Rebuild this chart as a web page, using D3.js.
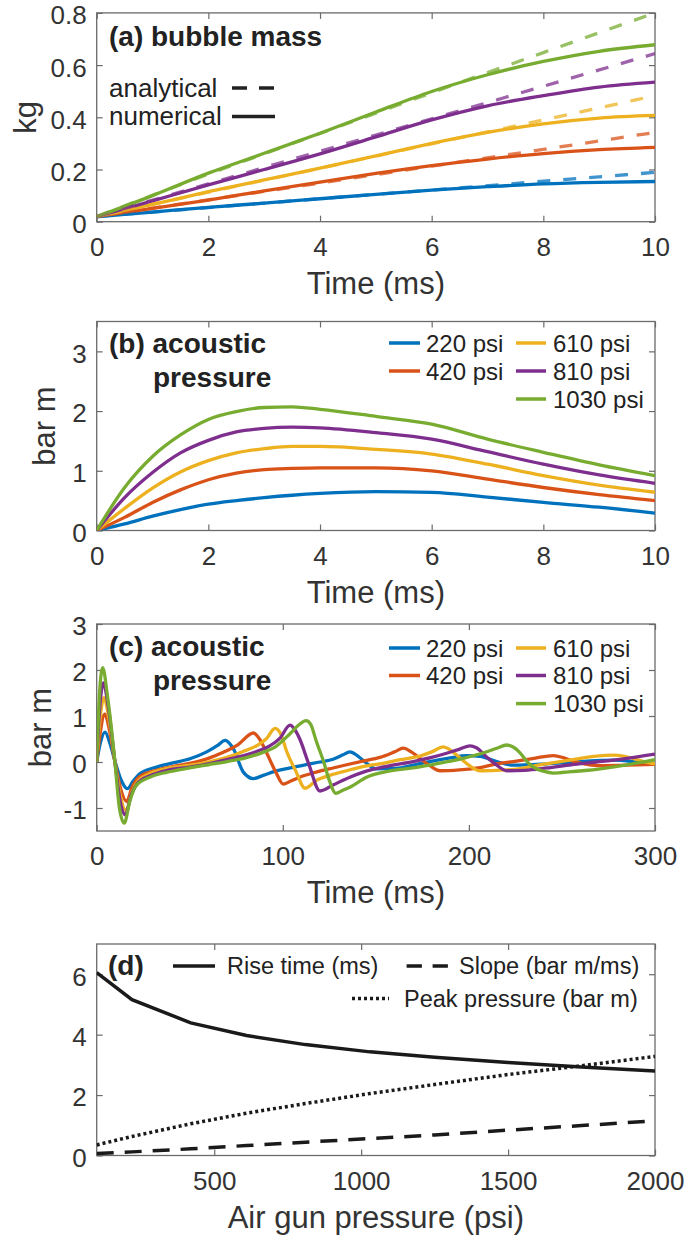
<!DOCTYPE html>
<html><head><meta charset="utf-8">
<script src="https://cdn.jsdelivr.net/npm/d3@7"></script>
<style>
body{margin:0;background:#fff}
text{font-family:"Liberation Sans",Arial,Helvetica,sans-serif}
</style>
</head><body>
<svg id="chart" width="685" height="1237"></svg>
<script>
// ---------------- DATA ----------------
const seriesNames = ["220 psi","420 psi","610 psi","810 psi","1030 psi"];
const seriesColors = ["#0072BD","#D95319","#EDB120","#7E2F8E","#77AC30"];

// (a) bubble mass, kg
const massTime = [0,1,2,3,4,5,6,7,8,9,10];
const massNum220  = [0.019,0.037,0.055,0.071,0.088,0.105,0.121,0.134,0.145,0.151,0.154];
const massNum420  = [0.019,0.051,0.083,0.118,0.152,0.185,0.215,0.240,0.261,0.276,0.285];
const massNum610  = [0.019,0.066,0.115,0.160,0.205,0.252,0.300,0.342,0.375,0.397,0.407];
const massNum810  = [0.019,0.080,0.141,0.200,0.260,0.325,0.390,0.444,0.483,0.516,0.535];
const massNum1030 = [0.019,0.100,0.186,0.262,0.339,0.420,0.499,0.563,0.614,0.653,0.678];
const anaTime = [0,2,4,6,8,10];
const massAna220  = [0.02,0.054,0.088,0.121,0.155,0.189];
const massAna420  = [0.02,0.084,0.148,0.213,0.277,0.342];
const massAna610  = [0.02,0.113,0.205,0.298,0.390,0.483];
const massAna810  = [0.02,0.145,0.270,0.394,0.519,0.644];
const massAna1030 = [0.02,0.182,0.338,0.494,0.648,0.800];

// (b) acoustic pressure, first 10 ms, bar m
const presTimeB = [0,0.5,1,1.5,2,2.5,3,3.5,4,5,6,7,8,9,10];
const presB220  = [0,0.11,0.24,0.35,0.44,0.50,0.55,0.59,0.62,0.65,0.64,0.56,0.47,0.39,0.29];
const presB420  = [0,0.22,0.47,0.68,0.85,0.96,1.02,1.04,1.05,1.05,1.00,0.86,0.72,0.60,0.50];
const presB610  = [0,0.37,0.71,0.98,1.17,1.30,1.37,1.41,1.41,1.36,1.28,1.11,0.92,0.76,0.64];
const presB810  = [0,0.55,0.97,1.30,1.51,1.65,1.71,1.73,1.72,1.64,1.53,1.32,1.11,0.93,0.79];
const presB1030 = [0,0.72,1.24,1.60,1.86,1.99,2.06,2.07,2.03,1.91,1.78,1.53,1.31,1.10,0.92];

// (c) acoustic pressure, 300 ms, [time ms, bar m]
const presC220 = [[0,0],[2,0.42],[4.5,0.65],[7,0.42],[9.8,0.02],[13,-0.38],[16.5,-0.58],[19.5,-0.42],[23.3,-0.25],[32.2,-0.11],[41,-0.02],[50.1,0.07],[59.1,0.22],[65,0.36],[69,0.47],[73.4,0.29],[78.8,-0.22],[84.2,-0.36],[89.5,-0.29],[96,-0.2],[103.9,-0.13],[112,-0.06],[120,0.0],[127,0.06],[132,0.15],[136.1,0.22],[140,0.14],[143.3,0.03],[150.4,-0.15],[161,-0.14],[170,-0.07],[179,0.01],[190,0.09],[198.8,0.14],[206,0.12],[214.9,0.01],[223.9,-0.07],[241.8,-0.04],[260,0.01],[277.6,0.04],[290,0.0],[300,-0.05]];
const presC420 = [[0,0],[1.8,0.6],[4.3,1.04],[6.8,0.7],[9.8,0.0],[13,-0.6],[16.1,-0.86],[19,-0.55],[23,-0.32],[32.2,-0.18],[41,-0.1],[50,-0.03],[60,0.08],[68,0.21],[76,0.38],[84.2,0.63],[87.5,0.5],[91.3,0.2],[96,-0.2],[100.3,-0.48],[104,-0.42],[109,-0.33],[118,-0.22],[127,-0.13],[134.3,-0.06],[143,0.02],[152.2,0.1],[160,0.22],[164.8,0.3],[169,0.22],[173.7,0.08],[179,-0.08],[184.5,-0.19],[195,-0.17],[206,-0.12],[215,-0.04],[223.9,0.01],[235,0.08],[245.4,0.14],[251,0.09],[256,0.02],[262,-0.04],[268.6,-0.08],[285,-0.07],[300,-0.05]];
const presC610 = [[0,0],[1.6,0.85],[3.9,1.4],[6.5,0.95],[9.8,0.0],[12.8,-0.75],[15.8,-1.06],[18.7,-0.68],[22.5,-0.4],[28.6,-0.25],[38,-0.14],[50,-0.07],[60,0.0],[70,0.1],[80,0.25],[87,0.38],[91.3,0.51],[95.8,0.73],[99,0.6],[102,0.24],[107,-0.2],[112,-0.57],[118,-0.4],[126,-0.28],[134.3,-0.19],[143,-0.1],[152,-0.04],[163,0.05],[173.7,0.13],[180,0.22],[186.3,0.33],[190,0.26],[195.2,0.09],[200,-0.07],[206,-0.19],[215,-0.18],[224,-0.16],[237,-0.07],[250.7,0.02],[260,0.08],[268.6,0.13],[277.6,0.15],[283,0.13],[288,0.08],[294,0.01],[300,-0.04]];
const presC810 = [[0,0],[1.4,1.05],[3.6,1.72],[6.2,1.2],[9.8,0.0],[12.6,-0.85],[15.4,-1.15],[18.5,-0.72],[22,-0.46],[28.6,-0.3],[38,-0.18],[50,-0.11],[60,-0.04],[70,0.05],[80,0.15],[88,0.26],[93,0.35],[98.5,0.52],[103.9,0.8],[106.5,0.7],[109,0.51],[114,-0.05],[120,-0.63],[127,-0.5],[136,-0.33],[143.3,-0.22],[155,-0.1],[170,0.01],[180,0.1],[188,0.19],[195,0.28],[200.6,0.35],[204,0.31],[209.5,0.11],[215,-0.07],[220.3,-0.19],[230,-0.18],[241.8,-0.13],[255,-0.06],[268.6,0.0],[285,0.08],[300,0.17]];
const presC1030 = [[0,0],[1.2,1.25],[3.2,2.05],[5.9,1.4],[9.8,0.0],[12.2,-1.0],[14.8,-1.33],[17.8,-0.85],[21,-0.52],[28.6,-0.33],[38,-0.22],[50,-0.13],[60,-0.06],[70,0.01],[80,0.09],[90,0.22],[96,0.33],[104,0.62],[109,0.82],[112.5,0.9],[115,0.82],[118,0.45],[122,0.0],[125,-0.4],[128.5,-0.68],[132,-0.62],[136,-0.55],[145,-0.33],[157,-0.2],[170,-0.13],[185,-0.02],[197,0.08],[208,0.2],[215,0.3],[220.3,0.37],[224,0.32],[227.5,0.2],[231,0.02],[234.6,-0.11],[240,-0.2],[245.4,-0.24],[255,-0.21],[268.6,-0.16],[285,-0.06],[300,0.05]];

// (d) summary vs air gun pressure
const gunPressure = [100,220,420,610,810,1030,1250,1500,1750,2000];
const riseTime    = [6.05,5.16,4.39,3.97,3.67,3.43,3.25,3.08,2.93,2.80];
const slope       = [0.07,0.12,0.22,0.33,0.44,0.56,0.68,0.84,0.99,1.15];
const peakPres    = [0.35,0.63,1.05,1.40,1.72,2.05,2.35,2.68,2.97,3.28];

// tick values
const ticksA_x = [0,2,4,6,8,10], ticksA_y = [0,0.2,0.4,0.6,0.8];
const ticksB_x = [0,2,4,6,8,10], ticksB_y = [0,1,2,3];
const ticksC_x = [0,100,200,300], ticksC_y = [-1,0,1,2,3];
const ticksD_x = [500,1000,1500,2000], ticksD_y = [0,2,4,6];

// ---------------- DRAW ----------------
const svg = d3.select("#chart");
const L = 96.7, R = 655;
const TXT = "#333";
const BOX = "#6b6b6b";
const LW = 3.3;

function panel(o){
  const x = d3.scaleLinear().domain(o.xd).range([L,R]);
  const y = d3.scaleLinear().domain(o.yd).range([o.bottom,o.top]);
  const g = svg.append("g");
  const id = "clip"+o.name;
  svg.append("clipPath").attr("id",id).append("rect")
    .attr("x",L).attr("y",o.top).attr("width",R-L).attr("height",o.bottom-o.top);
  const styleAxis = (sel, labels)=>{
    sel.select(".domain").remove();
    sel.selectAll(".tick line").attr("stroke",BOX).attr("stroke-width",1.2);
    sel.selectAll("text").attr("fill",TXT).style("font-size","26px");
    if(!labels) sel.selectAll("text").remove();
  };
  g.append("g").attr("transform",`translate(0,${o.bottom})`)
    .call(d3.axisBottom(x).tickValues(o.xt).tickSizeInner(-6).tickSizeOuter(0).tickPadding(16).tickFormat(d3.format("")))
    .call(s=>styleAxis(s,true));
  g.append("g").attr("transform",`translate(0,${o.top})`)
    .call(d3.axisTop(x).tickValues(o.xt).tickSizeInner(-6).tickSizeOuter(0))
    .call(s=>styleAxis(s,false));
  g.append("g").attr("transform",`translate(${L},0)`)
    .call(d3.axisLeft(y).tickValues(o.yt).tickSizeInner(-6).tickSizeOuter(0).tickPadding(10).tickFormat(d3.format("")))
    .call(s=>styleAxis(s,true))
    .call(s=>s.selectAll("text").attr("dy","0.42em"));
  g.append("g").attr("transform",`translate(${R},0)`)
    .call(d3.axisRight(y).tickValues(o.yt).tickSizeInner(-6).tickSizeOuter(0))
    .call(s=>styleAxis(s,false));
  g.selectAll(".tick text").each(function(){ const t=d3.select(this); t.text(t.text().replace("−","-")); });
  g.append("rect").attr("x",L).attr("y",o.top).attr("width",R-L).attr("height",o.bottom-o.top)
    .attr("fill","none").attr("stroke",BOX).attr("stroke-width",1.3);
  g.append("text").attr("x",(L+R)/2).attr("y",o.bottom+72).attr("text-anchor","middle")
    .attr("fill",TXT).style("font-size","31px").text(o.xlabel);
  if(o.ylabel){
    g.append("text").attr("transform",`translate(${o.ylx},${(o.top+o.bottom)/2}) rotate(-90)`)
      .attr("text-anchor","middle").attr("dy","0.35em").attr("fill",TXT).style("font-size","31px").text(o.ylabel);
  }
  const plot = svg.append("g").attr("clip-path",`url(#${id})`);
  return {x,y,g,plot};
}

// ---- (a)
{
  const p = panel({name:"a",top:12.9,bottom:221.7,xd:[0,10],yd:[0,0.8],xt:ticksA_x,yt:ticksA_y,xlabel:"Time (ms)",ylabel:"kg",ylx:25});
  const num = [massNum220,massNum420,massNum610,massNum810,massNum1030];
  const ana = [massAna220,massAna420,massAna610,massAna810,massAna1030];
  const line = d3.line().x(d=>p.x(d[0])).y(d=>p.y(d[1])).curve(d3.curveMonotoneX);
  num.forEach((s,i)=>{
    p.plot.append("path").attr("d",line(massTime.map((t,j)=>[t,s[j]])))
      .attr("fill","none").attr("stroke",seriesColors[i]).attr("stroke-width",LW);
  });
  ana.forEach((s,i)=>{
    p.plot.append("path").attr("d",line(anaTime.map((t,j)=>[t,s[j]])))
      .attr("fill","none").attr("stroke",seriesColors[i]).attr("stroke-width",LW)
      .attr("stroke-dasharray","13,13").attr("opacity",0.75);
  });
  p.g.append("text").attr("x",109).attr("y",46).attr("fill","#222").style("font-size","28px").style("font-weight","bold").text("(a) bubble mass");
  p.g.append("text").attr("x",109).attr("y",97).attr("fill","#222").style("font-size","26px").text("analytical");
  p.g.append("text").attr("x",109).attr("y",125).attr("fill","#222").style("font-size","26px").text("numerical");
  p.g.append("line").attr("x1",232).attr("x2",275).attr("y1",88).attr("y2",88).attr("stroke","#222").attr("stroke-width",3.5).attr("stroke-dasharray","15,12");
  p.g.append("line").attr("x1",232).attr("x2",275).attr("y1",116.5).attr("y2",116.5).attr("stroke","#222").attr("stroke-width",3.5);
}

function colourLegend(g, rowYs){
  const cols = [[389,420,426],[516,546,553]];
  seriesNames.forEach((n,i)=>{
    const col = (i===0||i===1)?cols[0]:cols[1];
    const row = i<2? i : i-2;
    const yy = rowYs[row];
    g.append("line").attr("x1",col[0]).attr("x2",col[1]).attr("y1",yy).attr("y2",yy)
      .attr("stroke",seriesColors[i]).attr("stroke-width",3.5);
    g.append("text").attr("x",col[2]).attr("y",yy).attr("dy","0.36em").attr("fill","#222")
      .style("font-size","24px").text(n);
  });
}

// ---- (b)
{
  const p = panel({name:"b",top:321.5,bottom:530.5,xd:[0,10],yd:[0,3.5],xt:ticksB_x,yt:ticksB_y,xlabel:"Time (ms)",ylabel:"bar m",ylx:44});
  const series = [presB220,presB420,presB610,presB810,presB1030];
  const line = d3.line().x(d=>p.x(d[0])).y(d=>p.y(d[1])).curve(d3.curveMonotoneX);
  series.forEach((s,i)=>{
    p.plot.append("path").attr("d",line(presTimeB.map((t,j)=>[t,s[j]])))
      .attr("fill","none").attr("stroke",seriesColors[i]).attr("stroke-width",LW);
  });
  p.g.append("text").attr("x",109).attr("y",353).attr("fill","#222").style("font-size","28px").style("font-weight","bold").text("(b) acoustic");
  p.g.append("text").attr("x",153).attr("y",387).attr("fill","#222").style("font-size","28px").style("font-weight","bold").text("pressure");
  colourLegend(p.g,[343,371,399]);
}

// ---- (c)
{
  const p = panel({name:"c",top:624,bottom:831,xd:[0,300],yd:[-1.5,3],xt:ticksC_x,yt:ticksC_y,xlabel:"Time (ms)",ylabel:"bar m",ylx:40});
  const series = [presC220,presC420,presC610,presC810,presC1030];
  const line = d3.line().x(d=>p.x(d[0])).y(d=>p.y(d[1])).curve(d3.curveMonotoneX);
  series.forEach((s,i)=>{
    p.plot.append("path").attr("d",line(s))
      .attr("fill","none").attr("stroke",seriesColors[i]).attr("stroke-width",LW);
  });
  p.g.append("text").attr("x",109).attr("y",656).attr("fill","#222").style("font-size","28px").style("font-weight","bold").text("(c) acoustic");
  p.g.append("text").attr("x",153).attr("y",690).attr("fill","#222").style("font-size","28px").style("font-weight","bold").text("pressure");
  colourLegend(p.g,[648,675.5,703.6]);
}

// ---- (d)
{
  const p = panel({name:"d",top:944,bottom:1155.5,xd:[100,2000],yd:[0,7],xt:ticksD_x,yt:ticksD_y,xlabel:"Air gun pressure (psi)",ylabel:null});
  const line = d3.line().x(d=>p.x(d[0])).y(d=>p.y(d[1]));
  const mk = arr => gunPressure.map((v,j)=>[v,arr[j]]);
  p.plot.append("path").attr("d",line(mk(riseTime))).attr("fill","none").attr("stroke","#1a1a1a").attr("stroke-width",3.5);
  p.plot.append("path").attr("d",line(mk(slope))).attr("fill","none").attr("stroke","#1a1a1a").attr("stroke-width",3.5).attr("stroke-dasharray","17,11");
  p.plot.append("path").attr("d",line(mk(peakPres))).attr("fill","none").attr("stroke","#1a1a1a").attr("stroke-width",3.5).attr("stroke-dasharray","3,3");
  p.g.append("text").attr("x",108).attr("y",975).attr("fill","#222").style("font-size","28px").style("font-weight","bold").text("(d)");
  p.g.append("line").attr("x1",173).attr("x2",215).attr("y1",966).attr("y2",966).attr("stroke","#1a1a1a").attr("stroke-width",3.5);
  p.g.append("text").attr("x",227).attr("y",966).attr("dy","0.36em").attr("fill","#222").style("font-size","23.5px").text("Rise time (ms)");
  p.g.append("line").attr("x1",406.6).attr("x2",448).attr("y1",966).attr("y2",966).attr("stroke","#1a1a1a").attr("stroke-width",3.5).attr("stroke-dasharray","15.3,10.7");
  p.g.append("text").attr("x",459).attr("y",966).attr("dy","0.36em").attr("fill","#222").style("font-size","23.5px").text("Slope (bar m/ms)");
  p.g.append("line").attr("x1",352).attr("x2",389).attr("y1",998.5).attr("y2",998.5).attr("stroke","#1a1a1a").attr("stroke-width",3.5).attr("stroke-dasharray","3,3");
  p.g.append("text").attr("x",404).attr("y",998.5).attr("dy","0.36em").attr("fill","#222").style("font-size","23.5px").text("Peak pressure (bar m)");
}
</script>
</body></html>
